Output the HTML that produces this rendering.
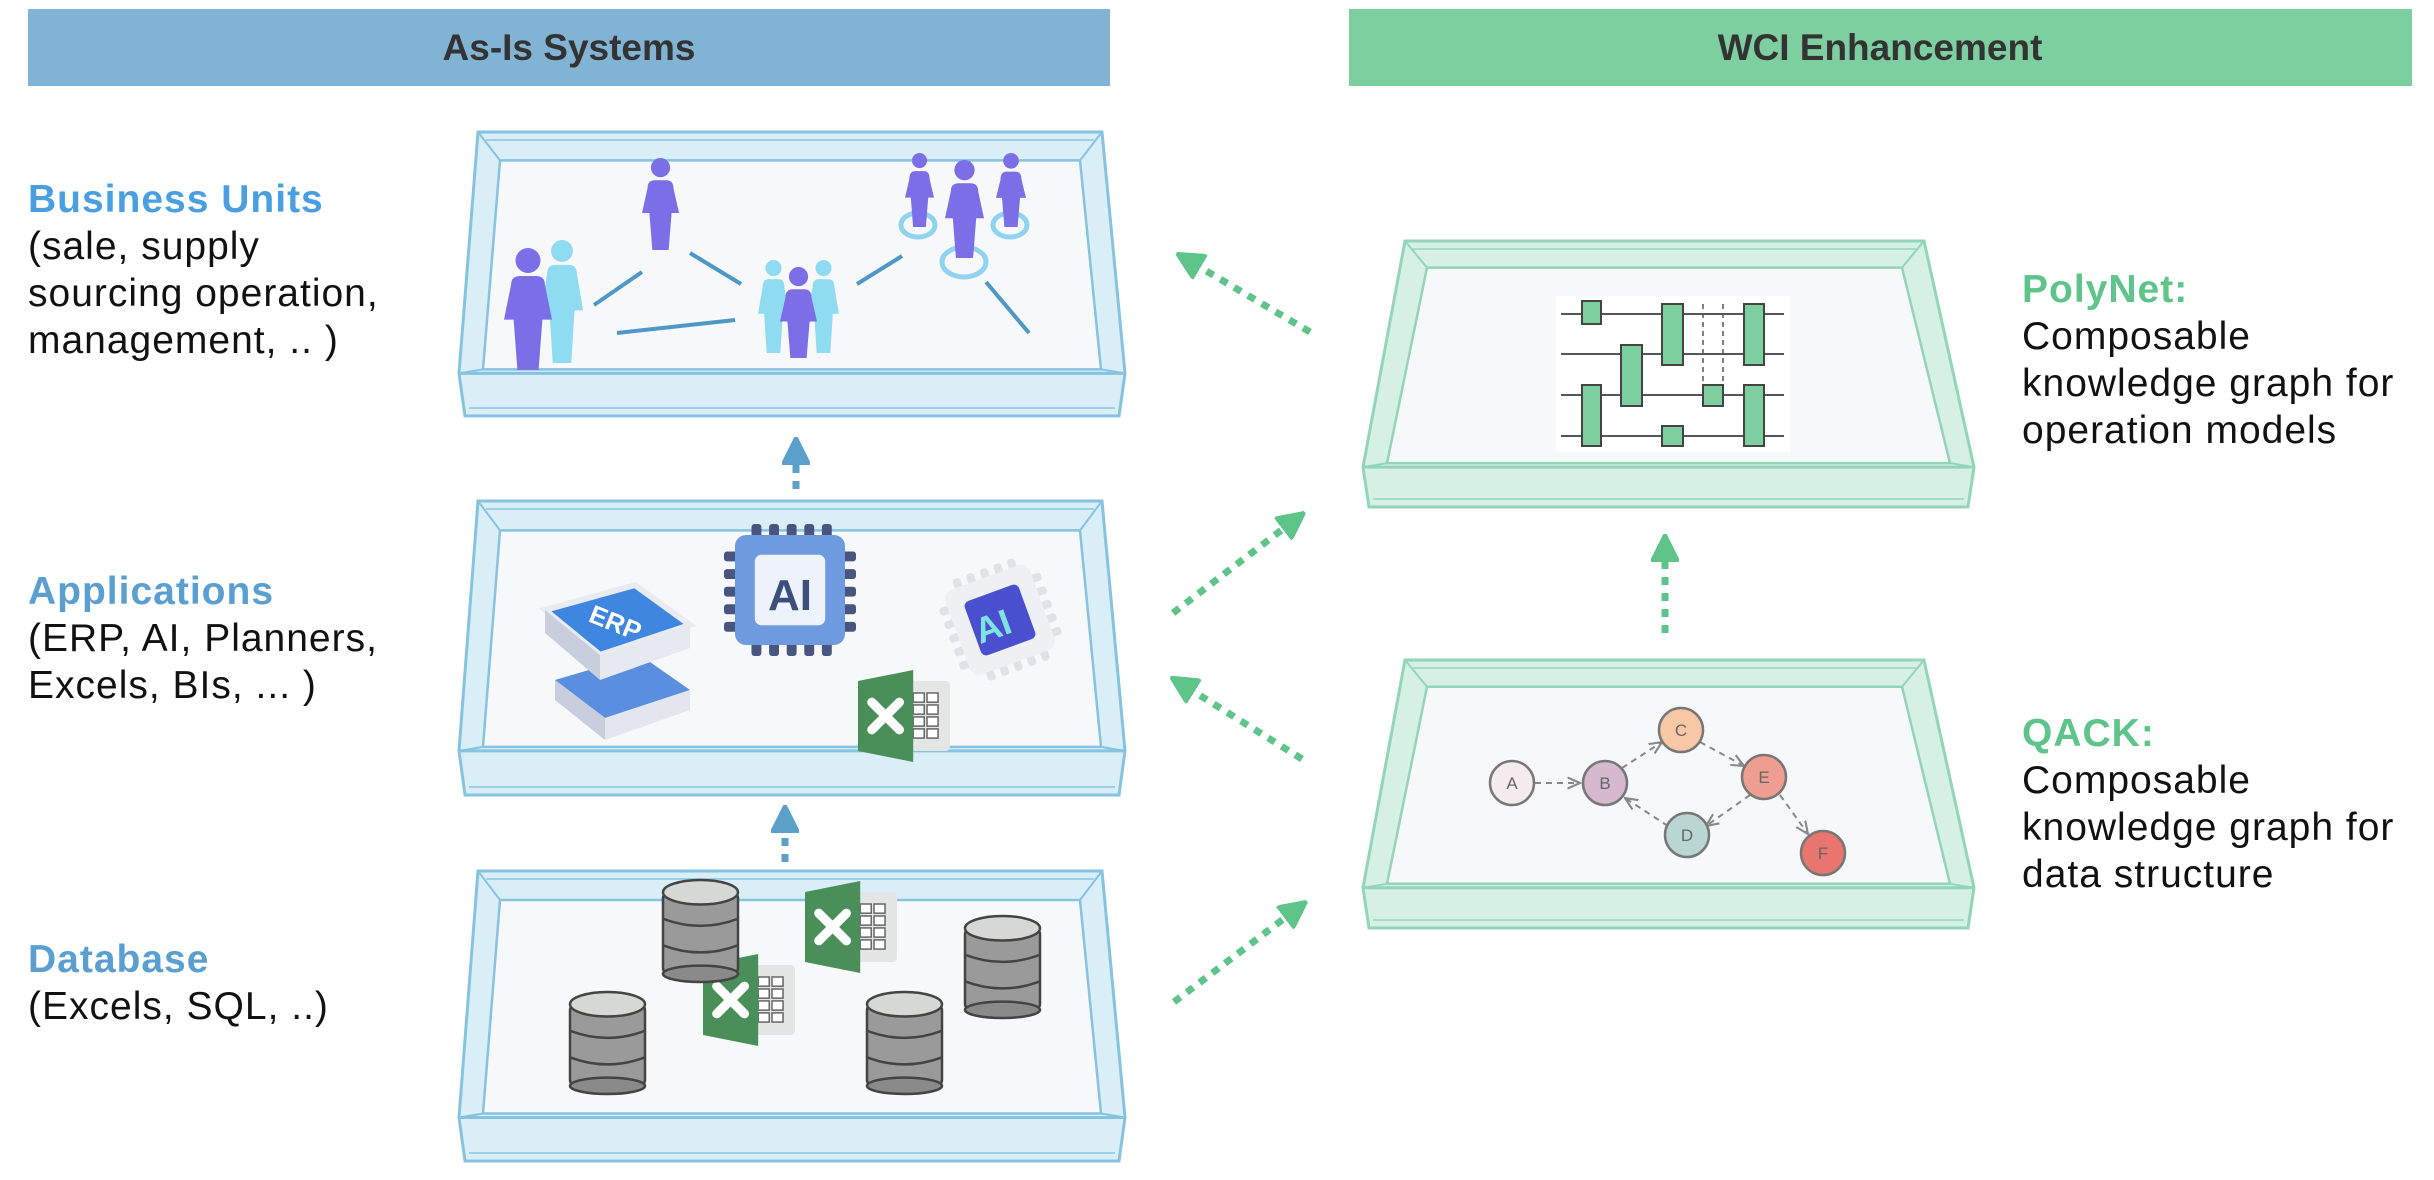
<!DOCTYPE html>
<html><head><meta charset="utf-8"><style>
html,body{margin:0;padding:0;background:#fff;width:2434px;height:1180px;overflow:hidden}
svg{display:block}
text{font-family:"Liberation Sans",sans-serif}
</style></head><body>
<svg id="s" width="2434" height="1180" viewBox="0 0 2434 1180" xmlns="http://www.w3.org/2000/svg">
<defs>
<marker id="ga" viewBox="0 0 10 10" refX="6" refY="5" markerWidth="4" markerHeight="4" orient="auto"><path d="M0,0 L10,5 L0,10 z" fill="#5ec48a" stroke="#5ec48a" stroke-linejoin="round"/></marker>
<marker id="ba" viewBox="0 0 10 10" refX="6" refY="5" markerWidth="4" markerHeight="4" orient="auto"><path d="M0,0 L10,5 L0,10 z" fill="#5b9fcb" stroke="#5b9fcb" stroke-linejoin="round"/></marker>
<marker id="sa" viewBox="0 0 10 10" refX="9" refY="5" markerWidth="7" markerHeight="7" orient="auto"><path d="M0,1 L9,5 L0,9" fill="none" stroke="#888" stroke-width="1.5"/></marker>
</defs>
<rect x="28" y="9" width="1082" height="77" fill="#80b3d4"/>
<text x="569" y="60" text-anchor="middle" font-size="37" font-weight="bold" fill="#333">As-Is Systems</text>
<rect x="1349" y="9" width="1063" height="77" fill="#7dcf9f"/>
<text x="1880" y="60" text-anchor="middle" font-size="37" font-weight="bold" fill="#333">WCI Enhancement</text>

<g font-size="39" fill="#111" letter-spacing="1">
<text x="28" y="212" font-weight="bold" fill="#4a9fe0">Business Units</text>
<text x="28" y="259">(sale, supply</text>
<text x="28" y="306">sourcing operation,</text>
<text x="28" y="353">management, .. )</text>
<text x="28" y="604" font-weight="bold" fill="#5a9fd0">Applications</text>
<text x="28" y="651">(ERP, AI, Planners,</text>
<text x="28" y="698">Excels, BIs, ... )</text>
<text x="28" y="972" font-weight="bold" fill="#5a9fd0">Database</text>
<text x="28" y="1019">(Excels, SQL, ..)</text>
<text x="2022" y="302" font-weight="bold" fill="#5ec48a">PolyNet:</text>
<text x="2022" y="349">Composable</text>
<text x="2022" y="396">knowledge graph for</text>
<text x="2022" y="443">operation models</text>
<text x="2022" y="746" font-weight="bold" fill="#5ec48a">QACK:</text>
<text x="2022" y="793">Composable</text>
<text x="2022" y="840">knowledge graph for</text>
<text x="2022" y="887">data structure</text>
</g>
<g id="trays"></g>
<g id="icons"></g>
<g fill="none" stroke-width="7" stroke-dasharray="8 8">
<line x1="1310" y1="332" x2="1186" y2="259" stroke="#5ec48a" marker-end="url(#ga)"/>
<line x1="1173" y1="613" x2="1296" y2="519" stroke="#5ec48a" marker-end="url(#ga)"/>
<line x1="1302" y1="759" x2="1180" y2="683" stroke="#5ec48a" marker-end="url(#ga)"/>
<line x1="1174" y1="1002" x2="1298" y2="908" stroke="#5ec48a" marker-end="url(#ga)"/>
<line x1="1665" y1="633" x2="1665" y2="545" stroke="#5ec48a" marker-end="url(#ga)"/>
<line x1="796" y1="489" x2="796" y2="448" stroke="#5b9fcb" marker-end="url(#ba)"/>
<line x1="785" y1="862" x2="785" y2="816" stroke="#5b9fcb" marker-end="url(#ba)"/>
</g>
<g stroke="#555" stroke-width="2">
<rect x="1556" y="296" width="234" height="156" fill="#fff" stroke="none"/>
<line x1="1561" y1="314" x2="1784" y2="314"/><line x1="1561" y1="354" x2="1784" y2="354"/>
<line x1="1561" y1="395" x2="1784" y2="395"/><line x1="1561" y1="436" x2="1784" y2="436"/>
<line x1="1703" y1="304" x2="1703" y2="385" stroke-dasharray="5 4" stroke-width="1.5"/>
<line x1="1723" y1="304" x2="1723" y2="385" stroke-dasharray="5 4" stroke-width="1.5"/>
<g fill="#7dcf9f" stroke="#444" stroke-width="2">
<rect x="1582" y="301" width="19" height="23"/><rect x="1621" y="345" width="21" height="61"/>
<rect x="1662" y="304" width="21" height="61"/><rect x="1703" y="385" width="20" height="21"/>
<rect x="1744" y="304" width="20" height="61"/><rect x="1582" y="385" width="19" height="61"/>
<rect x="1662" y="426" width="21" height="20"/><rect x="1744" y="385" width="20" height="61"/>
</g></g>
<g stroke="#888" stroke-width="2" stroke-dasharray="6 5" fill="none">
<line x1="1535" y1="783" x2="1580" y2="783" marker-end="url(#sa)"/>
<line x1="1622" y1="768" x2="1662" y2="742" marker-end="url(#sa)"/>
<line x1="1700" y1="742" x2="1744" y2="766" marker-end="url(#sa)"/>
<line x1="1750" y1="795" x2="1706" y2="826" marker-end="url(#sa)"/>
<line x1="1668" y1="826" x2="1625" y2="798" marker-end="url(#sa)"/>
<line x1="1780" y1="795" x2="1808" y2="834" marker-end="url(#sa)"/>
</g>
<g stroke="#777" stroke-width="2.5">
<circle cx="1512" cy="783" r="22" fill="#f4ebef"/><circle cx="1605" cy="783" r="22" fill="#d6b8cf"/>
<circle cx="1681" cy="730" r="22" fill="#f8c8a6"/><circle cx="1764" cy="777" r="22" fill="#ef9d90"/>
<circle cx="1687" cy="835" r="22" fill="#bad6d3"/><circle cx="1823" cy="853" r="22" fill="#e8756f"/>
</g>
<g font-size="17" fill="#666" text-anchor="middle">
<text x="1512" y="789">A</text><text x="1605" y="789">B</text><text x="1681" y="736">C</text>
<text x="1764" y="783">E</text><text x="1687" y="841">D</text><text x="1823" y="859">F</text>
</g>
<g font-weight="bold" text-anchor="middle">
<text x="0" y="0" font-size="44" fill="#3a4f7a" transform="translate(790,610)">AI</text>
<text x="0" y="0" font-size="36" fill="#7fe3e0" transform="translate(997,638) rotate(-20)">AI</text>
<text x="0" y="0" font-size="26" fill="#fff" transform="translate(612,631) rotate(22)">ERP</text>
</g>
</svg>
<script>
const NS="http://www.w3.org/2000/svg";
function el(p,tag,a){const e=document.createElementNS(NS,tag);for(const k in a)e.setAttribute(k,a[k]);p.appendChild(e);return e;}
const T=document.getElementById('trays'),I=document.getElementById('icons');
function tray(tl,tr,bl,br,t,b,c,f){
 const H=b-t,h=H*0.15,ti=H*0.1;
 el(T,'polygon',{points:`${tl},${t} ${tr},${t} ${br},${b-h} ${br-6},${b} ${bl+6},${b} ${bl},${b-h}`,fill:f,stroke:c,'stroke-width':3});
 el(T,'polygon',{points:`${tl+22},${t+ti} ${tr-22},${t+ti} ${br-24},${b-h-4} ${bl+24},${b-h-4}`,fill:'#f7f8f9',stroke:c,'stroke-width':2.5});
 el(T,'line',{x1:tl+8,y1:t+8,x2:tr-8,y2:t+8,stroke:c,'stroke-width':2,opacity:.7});
 el(T,'line',{x1:bl,y1:b-h,x2:br,y2:b-h,stroke:c,'stroke-width':3});
 el(T,'line',{x1:bl+10,y1:b-8,x2:br-10,y2:b-8,stroke:c,'stroke-width':2,opacity:.7});
 el(T,'line',{x1:tl,y1:t,x2:tl+22,y2:t+ti,stroke:c,'stroke-width':2});
 el(T,'line',{x1:tr,y1:t,x2:tr-22,y2:t+ti,stroke:c,'stroke-width':2});
 el(T,'line',{x1:bl,y1:b-h,x2:bl+24,y2:b-h-4,stroke:c,'stroke-width':2});
 el(T,'line',{x1:br,y1:b-h,x2:br-24,y2:b-h-4,stroke:c,'stroke-width':2});
}
const BC='#86c3e0',BF='#d9eef7',GC='#93d5b8',GF='#d6f0e4';
tray(478,1102,459,1125,132,416,BC,BF);
tray(478,1102,459,1125,501,795,BC,BF);
tray(478,1102,459,1125,871,1161,BC,BF);
tray(1405,1924,1363,1974,241,507,GC,GF);
tray(1405,1924,1363,1974,660,928,GC,GF);
function person(x,top,w,h,col){
 const r=w*0.26,cx=x+w/2;
 el(I,'circle',{cx:cx,cy:top+r,r:r,fill:col});
 const st=top+2*r+3,hip=st+(h-2*r)*0.45;
 el(I,'path',{d:`M${x+w*0.15},${st+8} Q${x+w*0.15},${st} ${x+w*0.35},${st} L${x+w*0.65},${st} Q${x+w*0.85},${st} ${x+w*0.85},${st+8} L${x+w},${hip} L${x+w*0.8},${hip} L${x+w*0.72},${top+h} L${x+w*0.28},${top+h} L${x+w*0.2},${hip} L${x},${hip} Z`,fill:col,'stroke-linejoin':'round'});
}
const P='#7b6ee6',C='#8fdcf2';
[[594,305,642,272],[690,253,741,284],[617,333,735,320],[857,284,902,256],[986,282,1029,333]].forEach(l=>el(I,'line',{x1:l[0],y1:l[1],x2:l[2],y2:l[3],stroke:'#4f97c7','stroke-width':4}));
person(541,240,42,123,C);person(504,248,48,122,P);
person(642,158,37,92,P);
person(758,260,31,93,C);person(808,260,31,93,C);person(780,267,37,91,P);
el(I,'ellipse',{cx:918,cy:225,rx:17,ry:12,fill:'none',stroke:'#8fd3f0','stroke-width':5});
el(I,'ellipse',{cx:1010,cy:225,rx:17,ry:12,fill:'none',stroke:'#8fd3f0','stroke-width':5});
el(I,'ellipse',{cx:964,cy:262,rx:22,ry:15,fill:'none',stroke:'#8fd3f0','stroke-width':5});
person(905,153,29,74,P);person(996,153,30,74,P);person(945,160,39,98,P);
function chip(x,y,s,body,face,pin,rot){
 const g=el(I,'g',{transform:`rotate(${rot||0} ${x+s/2} ${y+s/2})`});
 for(let i=0;i<5;i++){const o=s*0.15+i*s*0.16;
  el(g,'rect',{x:x+o,y:y-s*0.1,width:s*0.09,height:s*1.2,rx:3,fill:pin});
  el(g,'rect',{x:x-s*0.1,y:y+o,width:s*1.2,height:s*0.09,rx:3,fill:pin});}
 el(g,'rect',{x:x,y:y,width:s,height:s,rx:s*0.1,fill:body});
 el(g,'rect',{x:x+s*0.18,y:y+s*0.18,width:s*0.64,height:s*0.64,rx:s*0.06,fill:face});
}
chip(735,535,110,'#6e9be0','#eef3fb','#48557e',0);
chip(955,575,90,'#eef0f4','#4a4fcf','#dfe2e8',-20);
el(I,'path',{d:'M555,680 L640,655 L690,690 L605,718 Z',fill:'#5a8fe0'});
el(I,'path',{d:'M555,680 L605,718 L605,740 L555,700 Z',fill:'#c9cede'});
el(I,'path',{d:'M605,718 L690,690 L690,710 L605,740 Z',fill:'#e3e6ee'});
el(I,'path',{d:'M545,610 L635,585 L690,625 L600,655 Z',fill:'#3f86e0',stroke:'#e8ebf2','stroke-width':6});
el(I,'path',{d:'M545,610 L600,655 L600,680 L545,633 Z',fill:'#c9cede'});
el(I,'path',{d:'M600,655 L690,625 L690,648 L600,680 Z',fill:'#e6e9f0'});
function excel(x,y,s){
 el(I,'rect',{x:x+s*0.45,y:y+s*0.12,width:s*0.55,height:s*0.76,rx:4,fill:'#e4e6e6'});
 for(let i=0;i<2;i++)for(let j=0;j<4;j++)el(I,'rect',{x:x+s*0.6+i*s*0.15,y:y+s*0.25+j*s*0.13,width:s*0.12,height:s*0.1,fill:'#fff',stroke:'#666','stroke-width':1.5});
 el(I,'path',{d:`M${x},${y+s*0.12} L${x+s*0.6},${y} L${x+s*0.6},${y+s} L${x},${y+s*0.88} Z`,fill:'#4a8f5a'});
 el(I,'path',{d:`M${x+s*0.15},${y+s*0.35} L${x+s*0.45},${y+s*0.65} M${x+s*0.45},${y+s*0.35} L${x+s*0.15},${y+s*0.65}`,stroke:'#fff','stroke-width':s*0.1,'stroke-linecap':'round'});
}
excel(858,670,92);excel(805,881,92);excel(703,954,92);
function db(x,y,w,h){
 el(I,'rect',{x:x,y:y+h*0.12,width:w,height:h*0.8,rx:6,fill:'#9a9a9a',stroke:'#444','stroke-width':2.5});
 for(let i=1;i<=3;i++)el(I,'path',{d:`M${x},${y+h*0.12+i*h*0.26} Q${x+w/2},${y+h*0.26+i*h*0.26} ${x+w},${y+h*0.12+i*h*0.26}`,fill:'none',stroke:'#444','stroke-width':2.5});
 el(I,'ellipse',{cx:x+w/2,cy:y+h*0.12,rx:w/2,ry:h*0.12,fill:'#d6d8d4',stroke:'#444','stroke-width':2.5});
 el(I,'ellipse',{cx:x+w/2,cy:y+h*0.92,rx:w/2,ry:h*0.08,fill:'#8a8a8a',stroke:'#444','stroke-width':2.5});
}
db(663,880,75,102);db(570,992,75,102);db(965,916,75,102);db(867,992,75,102);
</script>
</body></html>
